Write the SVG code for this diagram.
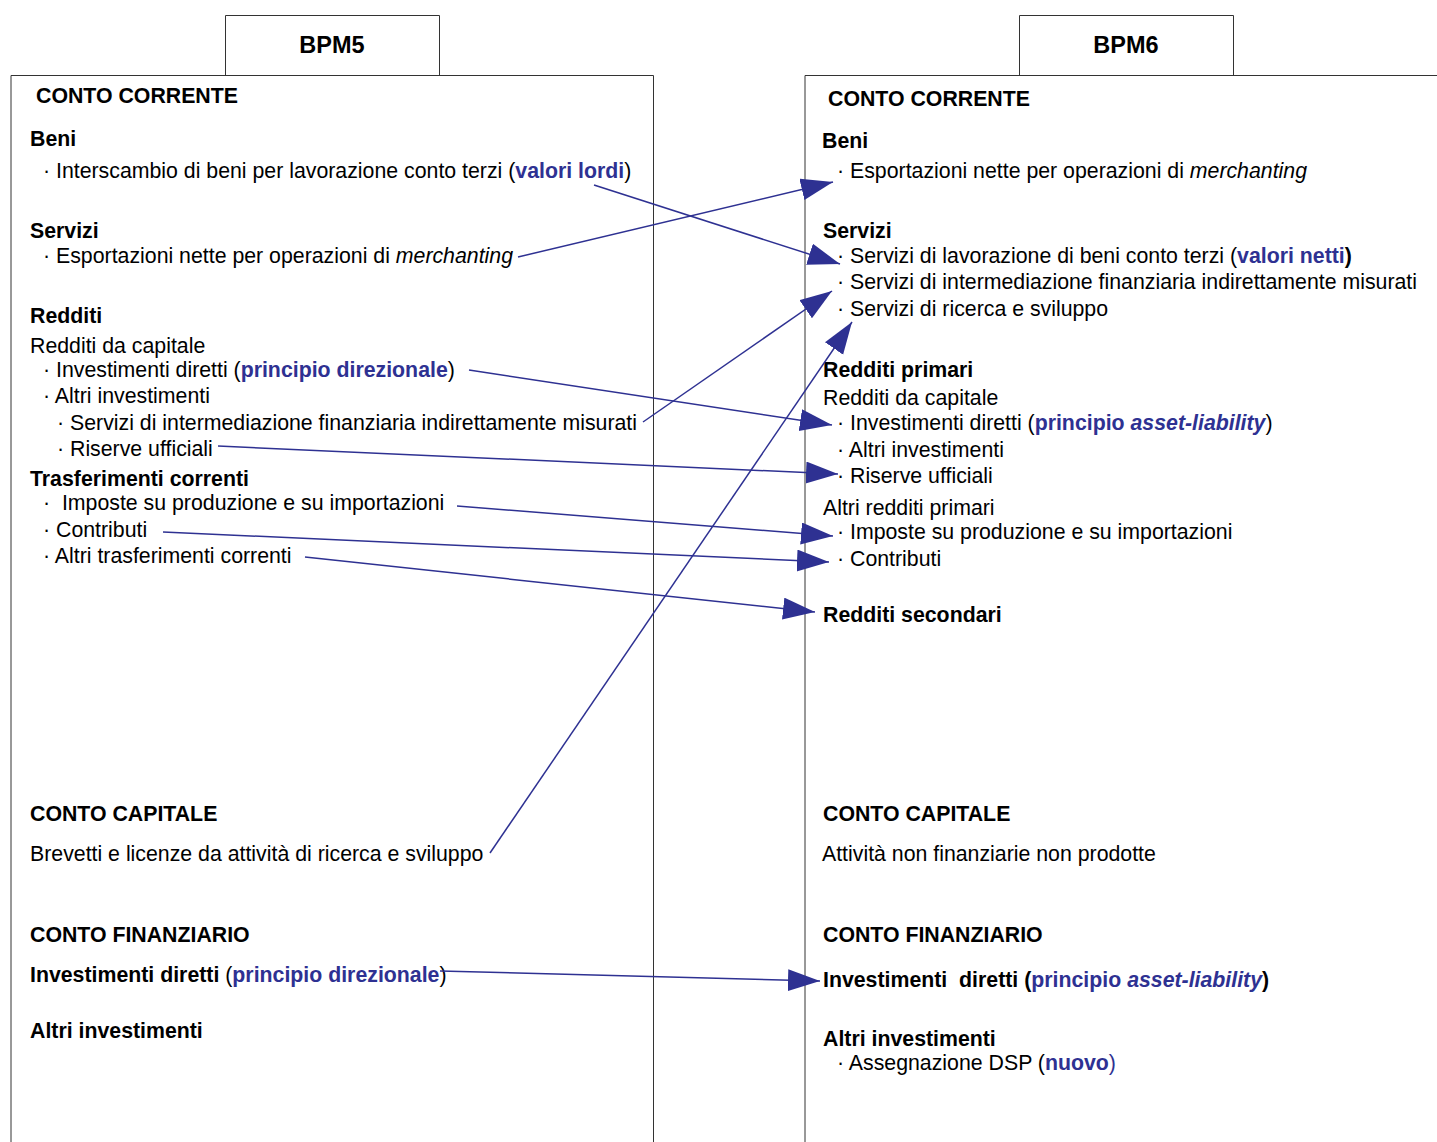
<svg xmlns="http://www.w3.org/2000/svg" width="1437" height="1142" viewBox="0 0 1437 1142">
<style>
text{font-family:"Liberation Sans",Arial,sans-serif;font-size:21.3px;fill:#000}
.b{font-weight:bold}
.bl{fill:#2e3192;font-weight:bold}
.bn{fill:#2e3192}
.i{font-style:italic}
.frame{fill:none;stroke:#333;stroke-width:1}
.hdr{font-size:23.5px;font-weight:bold;text-anchor:middle}
.conn line{stroke:#2e3192;stroke-width:1.5;marker-end:url(#ah)}
</style>
<defs>
<marker id="ah" markerUnits="userSpaceOnUse" markerWidth="34" markerHeight="24" refX="32" refY="11" orient="auto">
<path d="M0,0 L32,11 L0,22 z" fill="#2e3192"/>
</marker>
</defs>
<rect width="1437" height="1142" fill="#fff"/>

<g id="bpm5">
<path class="frame" d="M11,1150 V75.5 H653.5 V1150"/>
<path class="frame" d="M225.5,75.5 V15.5 H439.5 V75.5"/>
<text class="hdr" x="332" y="53">BPM5</text>
<text class="b" x="36" y="103">CONTO CORRENTE</text>
<text class="b" x="30" y="146">Beni</text>
<text x="43" y="178">· Interscambio di beni per lavorazione conto terzi (<tspan class="bl">valori lordi</tspan>)</text>
<text class="b" x="30" y="238">Servizi</text>
<text x="43" y="263">· Esportazioni nette per operazioni di <tspan class="i">merchanting</tspan></text>
<text class="b" x="30" y="323">Redditi</text>
<text x="30" y="353">Redditi da capitale</text>
<text x="43" y="377">· Investimenti diretti (<tspan class="bl">principio direzionale</tspan>)</text>
<text x="43" y="403">· Altri investimenti</text>
<text x="57" y="430">· Servizi di intermediazione finanziaria indirettamente misurati</text>
<text x="57" y="456">· Riserve ufficiali</text>
<text class="b" x="30" y="486">Trasferimenti correnti</text>
<text x="43" y="510" xml:space="preserve">·  Imposte su produzione e su importazioni</text>
<text x="43" y="537">· Contributi</text>
<text x="43" y="563">· Altri trasferimenti correnti</text>
<text class="b" x="30" y="821">CONTO CAPITALE</text>
<text x="30" y="861">Brevetti e licenze da attività di ricerca e sviluppo</text>
<text class="b" x="30" y="942">CONTO FINANZIARIO</text>
<text x="30" y="982"><tspan class="b">Investimenti diretti</tspan> (<tspan class="bl">principio direzionale</tspan>)</text>
<text class="b" x="30" y="1038">Altri investimenti</text>
</g>

<g id="bpm6">
<path class="frame" d="M805,1150 V75.5 H1440"/>
<path class="frame" d="M1019.5,75.5 V15.5 H1233.5 V75.5"/>
<text class="hdr" x="1126" y="53">BPM6</text>
<text class="b" x="828" y="106">CONTO CORRENTE</text>
<text class="b" x="822" y="148">Beni</text>
<text x="837" y="178">· Esportazioni nette per operazioni di <tspan class="i">merchanting</tspan></text>
<text class="b" x="823" y="238">Servizi</text>
<text x="837" y="263">· Servizi di lavorazione di beni conto terzi (<tspan class="bl">valori netti</tspan><tspan class="b">)</tspan></text>
<text x="837" y="289">· Servizi di intermediazione finanziaria indirettamente misurati</text>
<text x="837" y="316">· Servizi di ricerca e sviluppo</text>
<text class="b" x="823" y="377">Redditi primari</text>
<text x="823" y="405">Redditi da capitale</text>
<text x="837" y="430">· Investimenti diretti (<tspan class="bl">principio <tspan class="i">asset-liability</tspan></tspan>)</text>
<text x="837" y="457">· Altri investimenti</text>
<text x="837" y="483">· Riserve ufficiali</text>
<text x="823" y="515">Altri redditi primari</text>
<text x="837" y="539">· Imposte su produzione e su importazioni</text>
<text x="837" y="566">· Contributi</text>
<text class="b" x="823" y="622">Redditi secondari</text>
<text class="b" x="823" y="821">CONTO CAPITALE</text>
<text x="822" y="861">Attività non finanziarie non prodotte</text>
<text class="b" x="823" y="942">CONTO FINANZIARIO</text>
<text class="b" x="823" y="987" xml:space="preserve">Investimenti  diretti (<tspan class="bl">principio <tspan class="i">asset-liability</tspan></tspan>)</text>
<text class="b" x="823" y="1046">Altri investimenti</text>
<text x="837" y="1070">· Assegnazione DSP (<tspan class="bl">nuovo</tspan><tspan class="bn">)</tspan></text>
</g>

<g id="connectors" class="conn">
<line x1="594" y1="185" x2="840" y2="264"/>
<line x1="518" y1="257" x2="833" y2="182"/>
<line x1="643" y1="422" x2="832" y2="291"/>
<line x1="490" y1="853" x2="852" y2="322"/>
<line x1="469" y1="370" x2="832" y2="425"/>
<line x1="218" y1="446" x2="838" y2="474"/>
<line x1="457" y1="506" x2="833" y2="536"/>
<line x1="163" y1="532" x2="829" y2="562"/>
<line x1="305" y1="557" x2="815" y2="612"/>
<line x1="440" y1="971" x2="820" y2="981"/>
</g>
</svg>
